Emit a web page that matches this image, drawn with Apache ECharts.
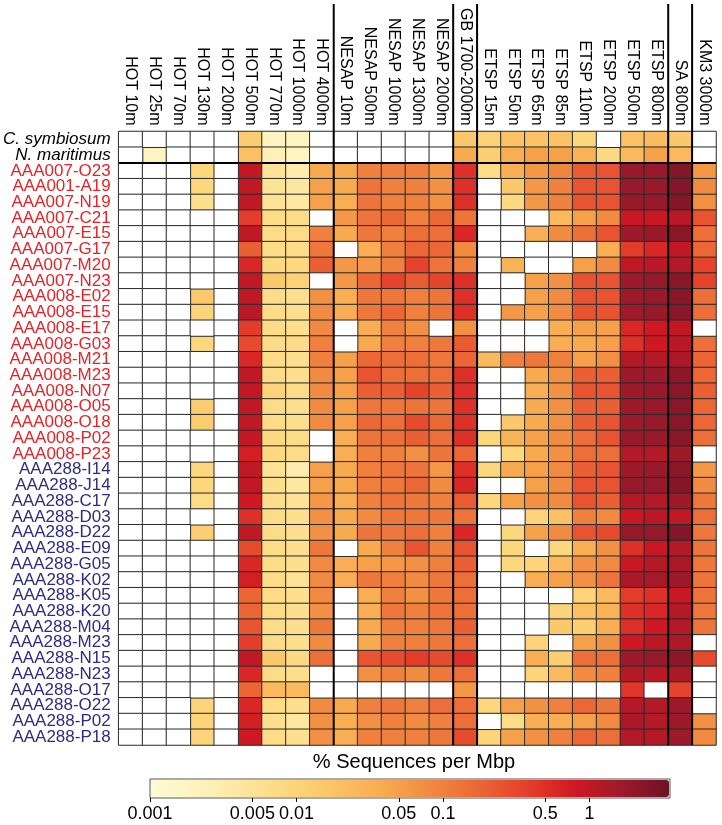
<!DOCTYPE html>
<html>
<head>
<meta charset="utf-8">
<script src="https://cdn.jsdelivr.net/npm/echarts@6/dist/echarts.min.js"></script>
<style>
  html, body { margin: 0; padding: 0; background: #fff; }
  #main { width: 722px; height: 825px; }
</style>
</head>
<body>
<div id="main"></div>
<script>
// sampling sites (columns)
var columns = ['HOT 10m', 'HOT 25m', 'HOT 70m', 'HOT 130m', 'HOT 200m', 'HOT 500m', 'HOT 770m', 'HOT 1000m', 'HOT 4000m',
  'NESAP 10m', 'NESAP 500m', 'NESAP 1000m', 'NESAP 1300m', 'NESAP 2000m', 'GB 1700-2000m',
  'ETSP 15m', 'ETSP 50m', 'ETSP 65m', 'ETSP 85m', 'ETSP 110m', 'ETSP 200m', 'ETSP 500m', 'ETSP 800m',
  'SA 800m', 'KM3 3000m'];
// first column of each new site group (thick separators)
var groupStarts = [9, 14, 15, 23, 24];

// genomes (rows)
var referenceRows = ['C. symbiosum', 'N. maritimus'];
var redRows = ['AAA007-O23', 'AAA001-A19', 'AAA007-N19', 'AAA007-C21', 'AAA007-E15', 'AAA007-G17', 'AAA007-M20', 'AAA007-N23',
  'AAA008-E02', 'AAA008-E15', 'AAA008-E17', 'AAA008-G03', 'AAA008-M21', 'AAA008-M23', 'AAA008-N07', 'AAA008-O05',
  'AAA008-O18', 'AAA008-P02', 'AAA008-P23'];
var blueRows = ['AAA288-I14', 'AAA288-J14', 'AAA288-C17', 'AAA288-D03', 'AAA288-D22', 'AAA288-E09', 'AAA288-G05', 'AAA288-K02',
  'AAA288-K05', 'AAA288-K20', 'AAA288-M04', 'AAA288-M23', 'AAA288-N15', 'AAA288-N23', 'AAA288-O17', 'AAA288-O22',
  'AAA288-P02', 'AAA288-P18'];
var rowNames = referenceRows.concat(redRows, blueRows);

// % sequences per Mbp, one list per genome (0 = no hits)
var values = [
  [0, 0, 0, 0, 0, 0.013, 0.002, 0.002, 0, 0, 0, 0, 0, 0, 0.015, 0.011, 0.018, 0.018, 0.018, 0.009, 0, 0.018, 0.022, 0.015, 0],
  [0, 0.002, 0, 0, 0, 0.02, 0.0025, 0.002, 0, 0, 0, 0, 0, 0, 0.04, 0.012, 0.035, 0.05, 0.05, 0.03, 0.008, 0.025, 0.05, 0.025, 0],
  [0, 0, 0, 0.009, 0, 1.0, 0.005, 0.003, 0.04, 0.04, 0.1, 0.1, 0.1, 0.06, 0.5, 0.007, 0.035, 0.06, 0.09, 0.22, 0.25, 1.8, 1.8, 2.5, 0.06],
  [0, 0, 0, 0.009, 0, 1.0, 0.005, 0.004, 0.05, 0.04, 0.13, 0.1, 0.1, 0.07, 0.5, 0, 0.015, 0.06, 0.1, 0.25, 0.25, 1.8, 1.8, 2.5, 0.08],
  [0, 0, 0, 0.006, 0, 1.0, 0.005, 0.004, 0.05, 0.035, 0.13, 0.1, 0.1, 0.07, 0.5, 0, 0.008, 0.06, 0.1, 0.25, 0.25, 1.8, 1.8, 2.5, 0.07],
  [0, 0, 0, 0, 0, 0.4, 0.007, 0.007, 0, 0.06, 0.13, 0.17, 0.1, 0.17, 0.13, 0, 0, 0, 0.025, 0.05, 0.08, 0.9, 0.9, 1.1, 0.25],
  [0, 0, 0, 0, 0, 1.0, 0.007, 0.007, 0.1, 0.04, 0.12, 0.1, 0.15, 0.15, 0.6, 0, 0, 0.035, 0.08, 0.15, 0.25, 1.7, 1.8, 2.3, 0.15],
  [0, 0, 0, 0, 0, 0.2, 0.007, 0.007, 0.12, 0, 0.035, 0.1, 0.17, 0.17, 0.08, 0, 0, 0, 0, 0, 0.035, 0.4, 0.6, 1.0, 0.17],
  [0, 0, 0, 0, 0, 0.6, 0.008, 0.008, 0.2, 0.06, 0.06, 0.1, 0.35, 0.13, 0.1, 0, 0.03, 0, 0, 0.05, 0.08, 1.0, 1.1, 1.2, 0.35],
  [0, 0, 0, 0, 0, 1.0, 0.015, 0.011, 0, 0.06, 0.17, 0.35, 0.22, 0.35, 0.5, 0, 0, 0.05, 0.07, 0.25, 0.25, 1.7, 1.9, 2.3, 0.35],
  [0, 0, 0, 0.015, 0, 1.0, 0.007, 0.006, 0.07, 0.035, 0.12, 0.12, 0.1, 0.13, 0.5, 0, 0, 0.05, 0.08, 0.25, 0.25, 1.7, 1.8, 2.3, 0.15],
  [0, 0, 0, 0.01, 0, 1.1, 0.007, 0.006, 0.08, 0.035, 0.12, 0.17, 0.1, 0.13, 0.5, 0, 0.06, 0.05, 0.08, 0.25, 0.25, 1.7, 1.8, 2.3, 0.15],
  [0, 0, 0, 0, 0, 0.4, 0.007, 0.006, 0.08, 0, 0.035, 0.1, 0.07, 0, 0.07, 0, 0, 0, 0.035, 0.05, 0.05, 0.6, 0.8, 1.0, 0],
  [0, 0, 0, 0.009, 0, 0.3, 0.007, 0.007, 0.1, 0, 0.04, 0.1, 0.1, 0.12, 0.22, 0, 0, 0, 0.035, 0.04, 0.05, 0.5, 0.8, 1.1, 0.15],
  [0, 0, 0, 0, 0, 0.6, 0.007, 0.006, 0.1, 0.05, 0.17, 0.15, 0.15, 0.12, 0.18, 0.025, 0.1, 0.12, 0.1, 0.05, 0.07, 1.2, 1.2, 1.4, 0.18],
  [0, 0, 0, 0, 0, 1.0, 0.007, 0.006, 0.08, 0.05, 0.25, 0.15, 0.15, 0.15, 0.5, 0, 0, 0.04, 0.07, 0.2, 0.2, 1.7, 1.7, 2.2, 0.17],
  [0, 0, 0, 0, 0, 1.0, 0.01, 0.007, 0.08, 0.05, 0.2, 0.2, 0.35, 0.2, 0.5, 0, 0, 0.035, 0.07, 0.25, 0.25, 1.7, 1.8, 2.3, 0.2],
  [0, 0, 0, 0.013, 0, 1.0, 0.007, 0.006, 0.08, 0.05, 0.12, 0.12, 0.13, 0.13, 0.5, 0, 0, 0.04, 0.07, 0.2, 0.2, 1.7, 1.8, 2.3, 0.17],
  [0, 0, 0, 0.013, 0, 1.0, 0.007, 0.006, 0.08, 0.05, 0.17, 0.15, 0.3, 0.17, 0.5, 0, 0.015, 0.04, 0.07, 0.2, 0.25, 1.7, 1.8, 2.3, 0.17],
  [0, 0, 0, 0, 0, 1.0, 0.008, 0.007, 0, 0.035, 0.13, 0.15, 0.2, 0.15, 0.5, 0.009, 0.03, 0.05, 0.08, 0.15, 0.25, 1.8, 1.8, 2.3, 0.15],
  [0, 0, 0, 0, 0, 0.7, 0.008, 0.007, 0, 0.035, 0.1, 0.1, 0.07, 0.13, 0.17, 0, 0.009, 0.04, 0.07, 0.15, 0.15, 1.2, 1.2, 1.7, 0],
  [0, 0, 0, 0.009, 0, 1.0, 0.005, 0.003, 0.05, 0.04, 0.1, 0.12, 0.13, 0.06, 0.5, 0.009, 0.04, 0.05, 0.08, 0.2, 0.25, 1.7, 1.8, 2.3, 0.06],
  [0, 0, 0, 0.009, 0, 1.0, 0.006, 0.004, 0.05, 0.04, 0.1, 0.12, 0.17, 0.08, 0.6, 0, 0, 0.05, 0.08, 0.25, 0.25, 1.8, 1.9, 2.4, 0.08],
  [0, 0, 0, 0.007, 0, 0.8, 0.006, 0.005, 0.06, 0.035, 0.1, 0.13, 0.12, 0.1, 0.22, 0.009, 0.05, 0.07, 0.08, 0.25, 0.2, 1.2, 1.2, 1.7, 0.12],
  [0, 0, 0, 0, 0, 0.5, 0.007, 0.006, 0.07, 0.04, 0.08, 0.12, 0.12, 0.12, 0.13, 0, 0, 0.01, 0.02, 0.1, 0.08, 0.9, 1.1, 1.0, 0.15],
  [0, 0, 0, 0.012, 0, 1.0, 0.007, 0.006, 0.07, 0.04, 0.13, 0.12, 0.15, 0.1, 0.6, 0, 0.009, 0.05, 0.08, 0.25, 0.3, 1.9, 1.9, 2.5, 0.12],
  [0, 0, 0, 0, 0, 0.3, 0.007, 0.006, 0.12, 0, 0.04, 0.1, 0.25, 0.1, 0.25, 0, 0.009, 0, 0.009, 0.035, 0.07, 0.5, 0.9, 1.2, 0.13],
  [0, 0, 0, 0, 0, 0.6, 0.007, 0.006, 0.08, 0.035, 0.05, 0.06, 0.07, 0.1, 0.2, 0, 0.009, 0.01, 0.025, 0.07, 0.08, 0.9, 1.2, 1.4, 0.12],
  [0, 0, 0, 0, 0, 0.7, 0.007, 0.005, 0.08, 0.035, 0.12, 0.1, 0.08, 0.12, 0.15, 0, 0, 0.035, 0.05, 0.07, 0.13, 1.4, 1.5, 1.7, 0.13],
  [0, 0, 0, 0, 0, 0.18, 0.007, 0.006, 0.08, 0, 0.035, 0.1, 0.07, 0.12, 0.15, 0, 0, 0, 0, 0.01, 0.025, 0.4, 0.5, 0.9, 0.13],
  [0, 0, 0, 0, 0, 0.18, 0.007, 0.006, 0.07, 0, 0.035, 0.12, 0.1, 0.13, 0.15, 0, 0, 0, 0.01, 0.02, 0.03, 0.5, 0.6, 1.2, 0.12],
  [0, 0, 0, 0, 0, 0.25, 0.007, 0.006, 0.12, 0, 0.04, 0.1, 0.1, 0.12, 0.2, 0, 0, 0, 0.015, 0.012, 0.035, 0.5, 0.8, 1.2, 0.13],
  [0, 0, 0, 0, 0, 0.4, 0.007, 0.006, 0.08, 0, 0.04, 0.1, 0.1, 0.12, 0.15, 0, 0, 0.01, 0, 0.05, 0.07, 0.8, 1.1, 1.3, 0],
  [0, 0, 0, 0, 0, 1.0, 0.015, 0.008, 0.15, 0, 0.25, 0.3, 0.4, 0.3, 0.5, 0, 0, 0.035, 0.012, 0.15, 0.15, 1.7, 1.9, 2.2, 0.3],
  [0, 0, 0, 0, 0, 0.6, 0.007, 0.006, 0, 0, 0.07, 0.1, 0.08, 0.12, 0.15, 0, 0, 0.01, 0.025, 0.08, 0.1, 1.2, 1.1, 1.4, 0],
  [0, 0, 0, 0, 0, 0.18, 0.025, 0.025, 0, 0, 0, 0, 0, 0, 0.06, 0, 0, 0, 0, 0, 0, 0.45, 0, 0.35, 0],
  [0, 0, 0, 0.01, 0, 0.6, 0.007, 0.006, 0.08, 0.04, 0.1, 0.12, 0.1, 0.15, 0.15, 0.009, 0.05, 0.07, 0.1, 0.17, 0.13, 1.2, 1.2, 1.7, 0],
  [0, 0, 0, 0.01, 0, 0.7, 0.006, 0.004, 0.07, 0.035, 0.07, 0.1, 0.08, 0.1, 0.15, 0, 0.007, 0.035, 0.035, 0.05, 0.08, 1.4, 1.2, 1.7, 0.07],
  [0, 0, 0, 0.01, 0, 0.8, 0.007, 0.006, 0.07, 0.035, 0.1, 0.1, 0.1, 0.12, 0.3, 0.01, 0.05, 0.07, 0.1, 0.17, 0.15, 1.2, 1.2, 1.7, 0.08]
];

// colour bar
var scaleMin = 0.001, scaleMax = 3.55;
var tickValues = [0.001, 0.005, 0.01, 0.05, 0.1, 0.5, 1];

var FONT = '"Liberation Sans", Arial, Helvetica, sans-serif';
var palette = ['#fffbd6', '#fef3be', '#fee59c', '#fdd67b', '#fbc163', '#f8a94e',
  '#f08740', '#eb6535', '#e53e2b', '#cf1823', '#9c1a2a', '#6c1226'];

var cells = [], blanks = [];
values.forEach(function (row, r) {
  row.forEach(function (v, c) {
    if (v > 0) cells.push([c, r, Math.log10(v)]);
    else blanks.push([c, r, 0]);
  });
});
var tickPos = tickValues.map(function (v) { return Math.log10(v); });

var chart = echarts.init(document.getElementById('main'), null, { renderer: 'canvas' });

var cellBorder = { borderColor: '#2a2a2a', borderWidth: 1 };

var option = {
  animation: false,
  backgroundColor: '#ffffff',
  grid: [
    { left: 115, right: 6, top: 131.5, bottom: 80 },
    { left: 150, top: 779, width: 520, height: 19, show: true, borderColor: '#555', borderWidth: 1, backgroundColor: 'transparent' }
  ],
  xAxis: [
    {
      type: 'category', gridIndex: 0, position: 'top', data: columns,
      axisLine: { show: false }, axisTick: { show: false }, splitLine: { show: false },
      axisLabel: { interval: 0, rotate: 90, margin: 6, fontSize: 16, color: '#000', fontFamily: FONT }
    },
    {
      type: 'value', gridIndex: 1, min: Math.log10(scaleMin), max: Math.log10(scaleMax),
      axisLine: { show: false }, splitLine: { show: false },
      axisTick: { show: true, customValues: tickPos, length: 4, lineStyle: { color: '#000' } },
      axisLabel: {
        customValues: tickPos, margin: 7, fontSize: 18, color: '#000', fontFamily: FONT,
        formatter: function (v) { return String(+Math.pow(10, v).toPrecision(1)); }
      }
    }
  ],
  yAxis: [
    {
      type: 'category', gridIndex: 0, inverse: true, data: rowNames,
      axisLine: { show: false }, axisTick: { show: false }, splitLine: { show: false },
      axisLabel: {
        interval: 0, margin: 8,
        formatter: function (v) {
          var k = referenceRows.indexOf(v) >= 0 ? 'sp' : (redRows.indexOf(v) >= 0 ? 'red' : 'blue');
          return '{' + k + '|' + v + '}';
        },
        rich: {
          sp: { fontStyle: 'italic', color: '#000', fontSize: 17, fontFamily: FONT },
          red: { color: '#e3242b', fontSize: 17, fontFamily: FONT },
          blue: { color: '#2e2c80', fontSize: 17, fontFamily: FONT }
        }
      }
    },
    { type: 'value', gridIndex: 1, show: false, min: 0, max: 1 }
  ],
  visualMap: {
    type: 'continuous', seriesIndex: 0,
    min: Math.log10(scaleMin), max: Math.log10(scaleMax),
    orient: 'horizontal', left: 151, top: 780, itemWidth: 17, itemHeight: 518,
    calculable: false, hoverLink: false, padding: 0,
    textStyle: { color: 'transparent', fontSize: 1 },
    inRange: { color: palette }
  },
  series: [
    {
      type: 'heatmap', xAxisIndex: 0, yAxisIndex: 0, data: cells,
      itemStyle: cellBorder, emphasis: { disabled: true }
    },
    {
      type: 'heatmap', xAxisIndex: 0, yAxisIndex: 0, data: blanks,
      itemStyle: { color: '#ffffff', borderColor: '#2a2a2a', borderWidth: 1 }, emphasis: { disabled: true }
    }
  ]
};
chart.setOption(option);

// group separators and colour-bar title, placed with the axes' own scales
var cx0 = chart.convertToPixel({ xAxisIndex: 0 }, columns[0]);
var colW = chart.convertToPixel({ xAxisIndex: 0 }, columns[1]) - cx0;
var cy0 = chart.convertToPixel({ yAxisIndex: 0 }, rowNames[0]);
var rowH = chart.convertToPixel({ yAxisIndex: 0 }, rowNames[1]) - cy0;
var gridLeft = cx0 - colW / 2;
var gridRight = cx0 + (columns.length - 0.5) * colW;
var gridBottom = cy0 + (rowNames.length - 0.5) * rowH;
var barLeft = chart.convertToPixel({ xAxisIndex: 1 }, Math.log10(scaleMin));
var barRight = chart.convertToPixel({ xAxisIndex: 1 }, Math.log10(scaleMax));

var gfx = [];
groupStarts.forEach(function (c) {
  var x = cx0 + (c - 0.5) * colW;
  gfx.push({ type: 'line', z: 100, shape: { x1: x, y1: 4, x2: x, y2: gridBottom }, style: { stroke: '#000', lineWidth: 2 } });
});
var hy = cy0 + (referenceRows.length - 0.5) * rowH;
gfx.push({ type: 'line', z: 100, shape: { x1: gridLeft, y1: hy, x2: gridRight, y2: hy }, style: { stroke: '#000', lineWidth: 2 } });
gfx.push({
  type: 'text', z: 100, x: (barLeft + barRight) / 2 + 4, y: 762,
  style: { text: '% Sequences per Mbp', fill: '#000', font: '20px ' + FONT, textAlign: 'center', textVerticalAlign: 'middle' }
});
chart.setOption({ graphic: gfx });
</script>
</body>
</html>
